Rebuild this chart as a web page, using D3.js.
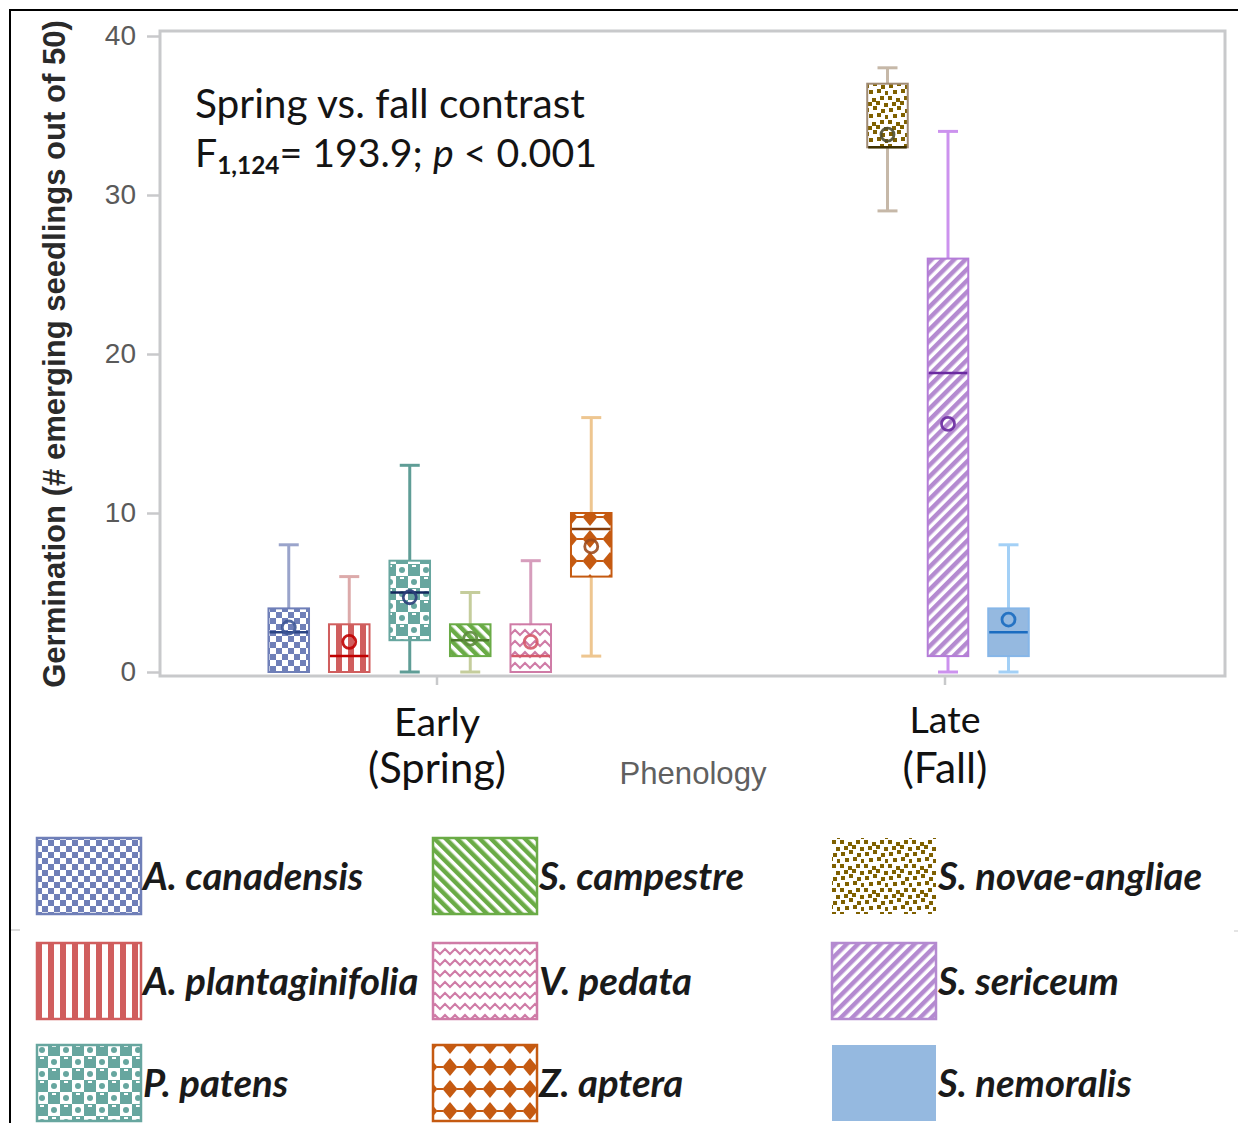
<!DOCTYPE html>
<html><head><meta charset="utf-8">
<script src="https://cdn.jsdelivr.net/npm/d3@7"></script>
<style>html,body{margin:0;padding:0;background:#fff;} svg{display:block;}</style>
</head><body>
<svg id="chart" width="1238" height="1123"></svg>
<script>
// Seedling emergence (out of 50 seeds) per species, grouped by flowering phenology
const species = ["A. canadensis","A. plantaginifolia","P. patens","S. campestre","V. pedata","Z. aptera","S. novae-angliae","S. sericeum","S. nemoralis"];
const phenology = ["Early","Early","Early","Early","Early","Early","Late","Late","Late"];
const phenologyGroups = ["Early","Late"];
const phenologyLabels = [["Early","(Spring)"],["Late","(Fall)"]];
const whiskerLow  = [0, 0, 0, 0, 0, 1, 29, 0, 0];
const quartile1   = [0, 0, 2, 1, 0, 6, 33, 1, 1];
const medians     = [2.5, 1, 5, 2, 1, 9, 33, 18.8, 2.5];
const quartile3   = [4, 3, 7, 3, 3, 10, 37, 26, 4];
const whiskerHigh = [8, 6, 13, 5, 7, 16, 38, 34, 8];
const means       = [2.8, 1.9, 4.7, 2.1, 1.9, 7.9, 33.8, 15.6, 3.3];
const yTicks = [0, 10, 20, 30, 40];

// per-species drawing style
const styles = {
  "A. canadensis":      {pat:"checker", color:"#6f7fb8", stroke:"#6f7fb8", whisker:"#9aa4cb", median:"#2b4585", mean:"#3c5596"},
  "A. plantaginifolia": {pat:"vstripe", color:"#d05e5e", stroke:"#d05e5e", whisker:"#dcaaaa", median:"#c00000", mean:"#c00000"},
  "P. patens":          {pat:"rings",   color:"#67a69f", stroke:"#67a69f", whisker:"#5f9d96", median:"#14285e", mean:"#2a3e7a"},
  "S. campestre":       {pat:"bdiag",   color:"#6aab46", stroke:"#6aab46", whisker:"#c5cd9c", median:"#4d7d2c", mean:"#5d8c3c"},
  "V. pedata":          {pat:"zigzag",  color:"#cf7ba6", stroke:"#cf7ba6", whisker:"#d69dbc", median:"#d4596a", mean:"#d4596a"},
  "Z. aptera":          {pat:"diamond", color:"#c55a11", stroke:"#c55a11", whisker:"#eec690", median:"#843c0c", mean:"#9c4a1c"},
  "S. novae-angliae":   {pat:"dots",    color:"#7f6000", stroke:"#a08b74", whisker:"#c6b8a8", median:"#3d3000", mean:"#4d4b2e"},
  "S. sericeum":        {pat:"fdiag",   color:"#b48ad0", stroke:"#b47cd8", whisker:"#cc92ee", median:"#6a2aa0", mean:"#6a2aa0"},
  "S. nemoralis":       {pat:"solid",   color:"#95b9e0", stroke:"#86b6e8", whisker:"#a3d0f6", median:"#1a6cc0", mean:"#1a6cc0"}
};

const svg = d3.select("#chart");
const plot = {left:160, right:1225, top:31, bottom:676};

// ---------- fill patterns ----------
const defs = svg.append("defs");
function makePattern(name, color, w, h, bg, transform) {
  const p = defs.append("pattern").attr("id", "p-" + name)
    .attr("patternUnits", "userSpaceOnUse").attr("width", w).attr("height", h);
  if (transform) p.attr("patternTransform", transform);
  p.append("rect").attr("width", w).attr("height", h).attr("fill", bg);
  return p;
}
species.forEach(s => {
  const st = styles[s], c = st.color, key = st.pat + "-" + s.replace(/[^a-z]/gi, "");
  st.fillId = "url(#p-" + key + ")";
  let p;
  switch (st.pat) {
    case "checker":
      p = makePattern(key, c, 12, 12, "#fff");
      p.append("rect").attr("width", 6).attr("height", 6).attr("fill", c);
      p.append("rect").attr("x", 6).attr("y", 6).attr("width", 6).attr("height", 6).attr("fill", c);
      break;
    case "vstripe":
      p = makePattern(key, c, 12, 12, "#fff");
      p.append("rect").attr("width", 6).attr("height", 12).attr("fill", c);
      break;
    case "rings":
      p = makePattern(key, c, 24, 24, c);
      [[6,6],[18,18]].forEach(([cx, cy]) => {
        p.append("rect").attr("x", cx - 6).attr("y", cy - 6).attr("width", 12).attr("height", 12).attr("fill", "#fff");
        p.append("circle").attr("cx", cx).attr("cy", cy).attr("r", 3).attr("fill", c);
      });
      [[18,6],[6,18]].forEach(([cx, cy]) => {
        p.append("rect").attr("x", cx - 2).attr("y", cy - 5).attr("width", 4).attr("height", 2).attr("fill", "#fff");
      });
      break;
    case "bdiag":
      p = makePattern(key, c, 8, 8, "#fff", "rotate(-45)");
      p.append("rect").attr("width", 4.5).attr("height", 8).attr("fill", c);
      break;
    case "fdiag":
      p = makePattern(key, c, 8, 8, "#fff", "rotate(45)");
      p.append("rect").attr("width", 4.5).attr("height", 8).attr("fill", c);
      break;
    case "zigzag":
      p = makePattern(key, c, 20, 11, "#fff");
      p.append("path").attr("d", "M-5,3 L0,8 L5,3 L10,8 L15,3 L20,8 L25,3")
        .attr("fill", "none").attr("stroke", c).attr("stroke-width", 2);
      break;
    case "diamond":
      p = makePattern(key, c, 20, 22, "#fff");
      p.append("path").attr("d", "M10,2 L17.5,11 L10,20 L2.5,11 Z").attr("fill", c);
      p.append("rect").attr("x", 0).attr("y", 10).attr("width", 3).attr("height", 2).attr("fill", c);
      p.append("rect").attr("x", 17).attr("y", 10).attr("width", 3).attr("height", 2).attr("fill", c);
      break;
    case "dots": {
      p = makePattern(key, c, 24, 24, "#fff");
      const sq = [[0,0],[8,2],[16,0],[4,6],[12,5],[20,7],[1,12],[9,10],[17,13],[5,18],[13,17],[21,19]];
      sq.forEach(([x, y]) => p.append("rect").attr("x", x).attr("y", y).attr("width", 4).attr("height", 4).attr("fill", c));
      break;
    }
    default:
      st.fillId = c;
  }
});

// ---------- scales ----------
const y = d3.scaleLinear().domain([0, 40]).range([672, 36]);
const xOuter = d3.scaleBand().domain(phenologyGroups).range([186, 1202]);
const innerStep = 60.5;
const xInner = {};
phenologyGroups.forEach(g => {
  const members = species.filter((s, i) => phenology[i] === g);
  const c = xOuter(g) + xOuter.bandwidth() / 2;
  xInner[g] = d3.scaleBand().domain(members)
    .range([c - members.length * innerStep / 2, c + members.length * innerStep / 2])
    .paddingInner(0.33).paddingOuter(0.165);
});
const boxX = i => xInner[phenology[i]](species[i]);
const boxW = i => xInner[phenology[i]].bandwidth();

// ---------- outer frame ----------
svg.append("line").attr("x1", 10).attr("y1", 10).attr("x2", 1238).attr("y2", 10).attr("stroke", "#000").attr("stroke-width", 2);
svg.append("line").attr("x1", 10).attr("y1", 9).attr("x2", 10).attr("y2", 1123).attr("stroke", "#000").attr("stroke-width", 2);
svg.append("line").attr("x1", 11).attr("y1", 930).attr("x2", 20).attr("y2", 930).attr("stroke", "#dcdcdc").attr("stroke-width", 2);
svg.append("line").attr("x1", 1234).attr("y1", 931).attr("x2", 1238).attr("y2", 931).attr("stroke", "#e4e4e4").attr("stroke-width", 2);

// ---------- plot frame and axes ----------
svg.append("rect").attr("x", plot.left).attr("y", plot.top)
  .attr("width", plot.right - plot.left).attr("height", plot.bottom - plot.top)
  .attr("fill", "none").attr("stroke", "#c8c9cb").attr("stroke-width", 3);

const yAxis = svg.append("g").attr("transform", `translate(${plot.left - 1},0)`)
  .call(d3.axisLeft(y).tickValues(yTicks).tickSize(12).tickPadding(11));
yAxis.select(".domain").remove();
yAxis.selectAll(".tick line").attr("stroke", "#c8c9cb").attr("stroke-width", 2.5);
yAxis.selectAll(".tick text").attr("font-family", "Liberation Sans, Arial, sans-serif")
  .attr("font-size", 28).attr("fill", "#5a5a5a");

const xAxis = svg.append("g").attr("transform", `translate(0,${plot.bottom})`)
  .call(d3.axisBottom(xOuter).tickSize(9).tickFormat(""));
xAxis.select(".domain").remove();
xAxis.selectAll(".tick line").attr("stroke", "#c8c9cb").attr("stroke-width", 2.5)
  .attr("transform", "translate(-3,0)");

function fitWidth(sel, target) {
  const w = sel.node().getComputedTextLength();
  sel.attr("font-size", parseFloat(sel.attr("font-size")) * target / w);
}

// category labels
const catFont = "Lato, 'Open Sans', sans-serif";
phenologyGroups.forEach((g, gi) => {
  const cx = xOuter(g) + xOuter.bandwidth() / 2 - 3;
  const [l1, l2] = phenologyLabels[gi];
  const t1 = svg.append("text").attr("x", cx).attr("y", gi === 0 ? 736 : 733).attr("text-anchor", "middle")
    .attr("font-family", catFont).attr("font-size", 40).attr("fill", "#111").text(l1);
  const t2 = svg.append("text").attr("x", cx).attr("y", 783).attr("text-anchor", "middle")
    .attr("font-family", catFont).attr("font-size", 40).attr("fill", "#111").text(l2);
  fitWidth(t1, gi === 0 ? 86 : 71);
  fitWidth(t2, gi === 0 ? 138 : 85);
});
const phen = svg.append("text").attr("x", 693).attr("y", 784).attr("text-anchor", "middle")
  .attr("font-family", "Liberation Sans, Arial, sans-serif").attr("font-size", 29).attr("fill", "#606060").text("Phenology");
fitWidth(phen, 147);

// y title
const yTitle = svg.append("text").attr("transform", "translate(65,354) rotate(-90)").attr("text-anchor", "middle")
  .attr("font-family", "Liberation Sans, Arial, sans-serif").attr("font-weight", "bold")
  .attr("font-size", 27).attr("fill", "#2a2a2a").text("Germination (# emerging seedlings out of 50)");
fitWidth(yTitle, 668);

// contrast annotation
const ann1 = svg.append("text").attr("x", 195).attr("y", 118)
  .attr("font-family", catFont).attr("font-size", 40).attr("fill", "#141414").text("Spring vs. fall contrast");
fitWidth(ann1, 390);
const ann2 = svg.append("text").attr("x", 195).attr("y", 167)
  .attr("font-family", catFont).attr("font-size", 40).attr("fill", "#141414");
ann2.append("tspan").text("F");
ann2.append("tspan").attr("font-size", "0.62em").attr("font-weight", "bold").attr("dy", 7).text("1,124");
ann2.append("tspan").attr("dy", -7).text("= 193.9; ");
ann2.append("tspan").attr("font-style", "italic").text("p");
ann2.append("tspan").text(" < 0.001");
fitWidth(ann2, 402);

// ---------- box plots ----------
const boxes = svg.append("g");
species.forEach((s, i) => {
  const st = styles[s];
  const x0 = boxX(i), w = boxW(i), cx = x0 + w / 2;
  const g = boxes.append("g");
  // whiskers
  if (whiskerHigh[i] > quartile3[i]) {
    g.append("line").attr("x1", cx).attr("x2", cx).attr("y1", y(whiskerHigh[i])).attr("y2", y(quartile3[i]))
      .attr("stroke", st.whisker).attr("stroke-width", 3);
    g.append("line").attr("x1", cx - 10).attr("x2", cx + 10).attr("y1", y(whiskerHigh[i])).attr("y2", y(whiskerHigh[i]))
      .attr("stroke", st.whisker).attr("stroke-width", 3);
  }
  if (whiskerLow[i] < quartile1[i]) {
    g.append("line").attr("x1", cx).attr("x2", cx).attr("y1", y(quartile1[i])).attr("y2", y(whiskerLow[i]))
      .attr("stroke", st.whisker).attr("stroke-width", 3);
    g.append("line").attr("x1", cx - 10).attr("x2", cx + 10).attr("y1", y(whiskerLow[i])).attr("y2", y(whiskerLow[i]))
      .attr("stroke", st.whisker).attr("stroke-width", 3);
  }
  // box
  const yTop = y(quartile3[i]), yBot = Math.min(y(quartile1[i]), plot.bottom - 1);
  g.append("rect").attr("x", x0).attr("y", yTop).attr("width", w).attr("height", yBot - yTop)
    .attr("fill", st.fillId).attr("stroke", st.stroke).attr("stroke-width", 2);
  // median
  g.append("line").attr("x1", x0 + 1).attr("x2", x0 + w - 1).attr("y1", y(medians[i])).attr("y2", y(medians[i]))
    .attr("stroke", st.median).attr("stroke-width", 2.5);
  // mean
  g.append("circle").attr("cx", cx).attr("cy", y(means[i])).attr("r", 6.5)
    .attr("fill", "none").attr("stroke", st.mean).attr("stroke-width", 2.8).attr("stroke-opacity", 0.9);
});

// ---------- legend ----------
const legendCols = [37, 433, 832];
const legendRows = [838, 943, 1045];
const legend = svg.append("g");
const legendTexts = [];
const legendTargets = [219, 276, 143, 205, 151, 145, 268, 180, 196];
species.forEach((s, i) => {
  const st = styles[s];
  const lx = legendCols[Math.floor(i / 3)], ly = legendRows[i % 3];
  const noBorder = st.pat === "dots" || st.pat === "solid";
  legend.append("rect").attr("x", lx).attr("y", ly).attr("width", 104).attr("height", 76)
    .attr("fill", st.fillId).attr("stroke", noBorder ? "none" : st.color).attr("stroke-width", 2.5);
  const t = legend.append("text").attr("x", lx + 106).attr("y", ly + 52)
    .attr("font-family", catFont).attr("font-style", "italic").attr("font-weight", "bold")
    .attr("font-size", 34).attr("fill", "#1a1a1a").text(s);
  legendTexts.push(t);
});
// one common legend font size
let measured = 0, target = 0;
legendTexts.forEach((t, i) => { measured += t.node().getComputedTextLength(); target += legendTargets[i]; });
legendTexts.forEach(t => t.attr("font-size", 34 * target / measured));
</script>
</body></html>
